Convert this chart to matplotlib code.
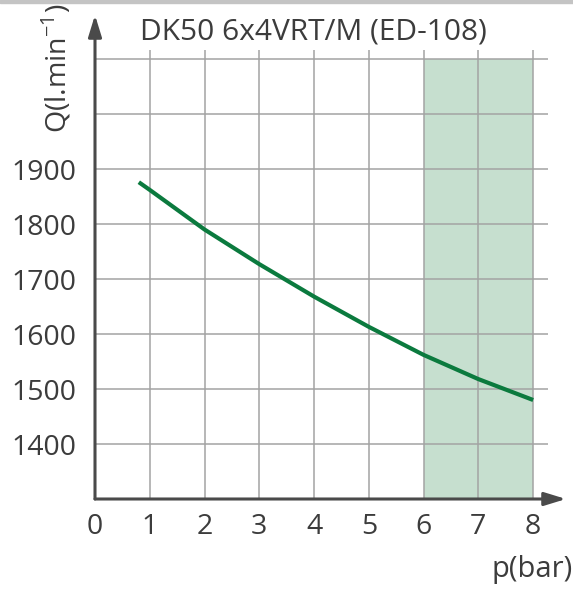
import numpy as np
import matplotlib
matplotlib.use('Agg')
import matplotlib.pyplot as plt
from matplotlib.patches import Rectangle

plt.rcParams['font.family'] = ['Open Sans', 'DejaVu Sans']
plt.rcParams['mathtext.fontset'] = 'custom'
plt.rcParams['mathtext.rm'] = 'Open Sans'
# ================================================
# DATA
# ================================================
p_bar  = [0.8, 1, 2, 3, 4, 5, 6, 7, 8]
Q_flow = [1876, 1862, 1790, 1727, 1668, 1613, 1562, 1518, 1480]
x_ticks = [0, 1, 2, 3, 4, 5, 6, 7, 8]
y_ticks = [1400, 1500, 1600, 1700, 1800, 1900]
y_grid  = [1400, 1500, 1600, 1700, 1800, 1900, 2000, 2100]
x_grid  = [1, 2, 3, 4, 5, 6, 7, 8]
shade   = [6, 8]
title   = 'DK50 6x4VRT/M (ED-108)'
# ================================================
W, H = 573, 590
txt_c  = '#3c3c3c'
axis_c = '#4a4a4a'
grid_c = '#a3a3a3'

fig = plt.figure(figsize=(W/100, H/100), dpi=100)
ax = fig.add_axes([95/W, (H-499)/H, (566-95)/W, (499-15)/H])
ax.set_xlim(0, 8.6)
ax.set_ylim(1300, 2180)
for s in ax.spines.values():
    s.set_visible(False)

# top gray strip
fig.patches.append(Rectangle((0, (H-3)/H), 1, 3/H, transform=fig.transFigure,
                             color='#c4c4c4', zorder=0))

ax.fill_between(shade, 1300, 2100, color='#c6dfcf', lw=0, zorder=1)
ax.hlines(y_grid, 0, 8.27, color=grid_c, lw=1.1, zorder=2)
ax.vlines(x_grid, 1300, 2116, color=grid_c, lw=1.1, zorder=2)

ax.plot(p_bar, Q_flow, color='#0b7a3e', lw=3, solid_capstyle='butt',
        solid_joinstyle='round', zorder=4)

# axes with arrows
arr = dict(arrowstyle='-|>,head_length=1.3,head_width=0.4',
           color=axis_c, lw=2.2, shrinkA=0, shrinkB=0)
ax.annotate('', xy=(8.6, 1300), xytext=(0, 1300), annotation_clip=False,
            arrowprops=arr, zorder=5)
ax.annotate('', xy=(0, 2180), xytext=(0, 1300), annotation_clip=False,
            arrowprops=arr, zorder=5)

ax.set_xticks(x_ticks)
ax.set_yticks(y_ticks)
ax.tick_params(length=0, labelsize=20.5, labelcolor=txt_c)
ax.tick_params(axis='x', pad=10)
ax.tick_params(axis='y', pad=13)

fig.text(313/W, (H-32)/H, title, ha='center', va='center', fontsize=21.5, color=txt_c)
fig.text(57/W, (H-68)/H, r'Q(l.min$^{-1}$)', rotation=90, ha='center', va='center',
         fontsize=20.5, color=txt_c)
fig.text(573/W, 13/H, 'p(bar)', ha='right', va='baseline', fontsize=21, color=txt_c)

plt.savefig('out.png', dpi=100)
plt.close()
